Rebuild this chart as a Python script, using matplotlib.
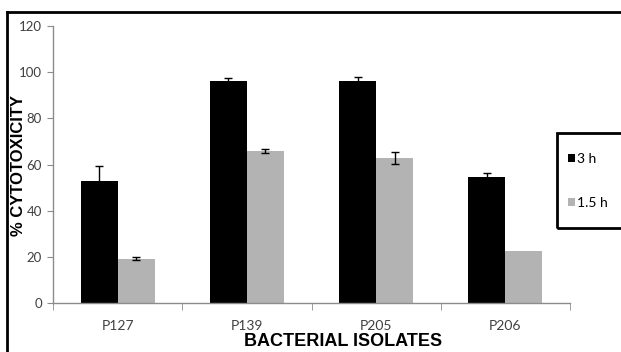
import numpy as np
import matplotlib
matplotlib.use("Agg")
import matplotlib.pyplot as plt
from matplotlib.patches import Rectangle
from matplotlib.lines import Line2D

# data
isolates = ["P127", "P139", "P205", "P206"]
cyto_3h = [53.0, 96.2, 96.2, 54.4]
err_3h = [6.5, 1.4, 1.8, 2.1]
cyto_15h = [19.2, 65.8, 62.8, 22.4]
err_15h = [0.6, 0.8, 2.7, np.nan]   # no bar shown for P206
series_labels = ["3 h", "1.5 h"]

W, H = 621, 352
fig = plt.figure(figsize=(W / 100, H / 100), dpi=100)
fig.patch.set_facecolor("white")

# axes placed in pixel terms
ax = fig.add_axes([53 / W, 1 - 303 / H, (570 - 53) / W, (303 - 26) / H])

x = np.arange(len(isolates))
bw = 0.286
axis_col = "#8c8c8c"
tick_col = "#404040"
ekw = dict(ecolor="black", capsize=3, elinewidth=1, capthick=1)

ax.bar(x - bw / 2, cyto_3h, bw, color="black", label=series_labels[0],
       yerr=err_3h, error_kw=ekw)
ax.bar(x + bw / 2, cyto_15h, bw, color="#b3b3b3", label=series_labels[1],
       yerr=err_15h, error_kw=ekw)

ax.set_xlim(-0.5, len(isolates) - 0.5)
ax.set_ylim(0, 120)
ax.set_yticks(np.arange(0, 121, 20))
ax.set_xticks(x)
ax.set_xticklabels(isolates)
ax.set_xticks(np.arange(-0.5, len(isolates), 1.0), minor=True)

for s in ["top", "right"]:
    ax.spines[s].set_visible(False)
for s in ["left", "bottom"]:
    ax.spines[s].set_color(axis_col)
    ax.spines[s].set_linewidth(1)

ax.tick_params(axis="y", length=4, color=axis_col, labelcolor=tick_col,
               labelsize=9.5, pad=4)
ax.tick_params(axis="x", which="major", length=0, labelcolor=tick_col,
               labelsize=10, pad=12)
ax.tick_params(axis="x", which="minor", length=5, color=axis_col)
for lab in ax.get_xticklabels() + ax.get_yticklabels():
    lab.set_family(["Lato", "DejaVu Sans"])

ax.set_ylabel("% CYTOTOXICITY", family=["Liberation Sans", "DejaVu Sans"],
              fontsize=12, fontweight="bold", va="center")
ax.set_xlabel("BACTERIAL ISOLATES", family=["Liberation Sans", "DejaVu Sans"],
              fontsize=13, fontweight="bold", va="center")
ax.yaxis.set_label_coords((19 - 53) / 517, 0.495)
ax.xaxis.set_label_coords((343 - 53) / 517, (303 - 342) / 277)

# legend with a heavy box running off the right edge
fig.patches.append(Rectangle((557 / W, 1 - 228 / H), 100 / W, 95 / H,
                             transform=fig.transFigure, fill=False,
                             edgecolor="black", linewidth=2))
leg = fig.legend(loc="center left", bbox_to_anchor=(562 / W, 1 - 181 / H),
                 frameon=False, handlelength=0.55, handleheight=0.55,
                 handletextpad=0.15, labelspacing=2.3, borderaxespad=0,
                 prop=dict(family=["Lato", "DejaVu Sans"], size=10))

# outer frame (top and left edges visible)
fig.add_artist(Line2D([7 / W, 1.0], [1 - 12 / H, 1 - 12 / H],
                      transform=fig.transFigure, color="black", linewidth=2))
fig.add_artist(Line2D([7 / W, 7 / W], [0, 1 - 12 / H],
                      transform=fig.transFigure, color="black", linewidth=2))

fig.savefig("out.png", dpi=100)
